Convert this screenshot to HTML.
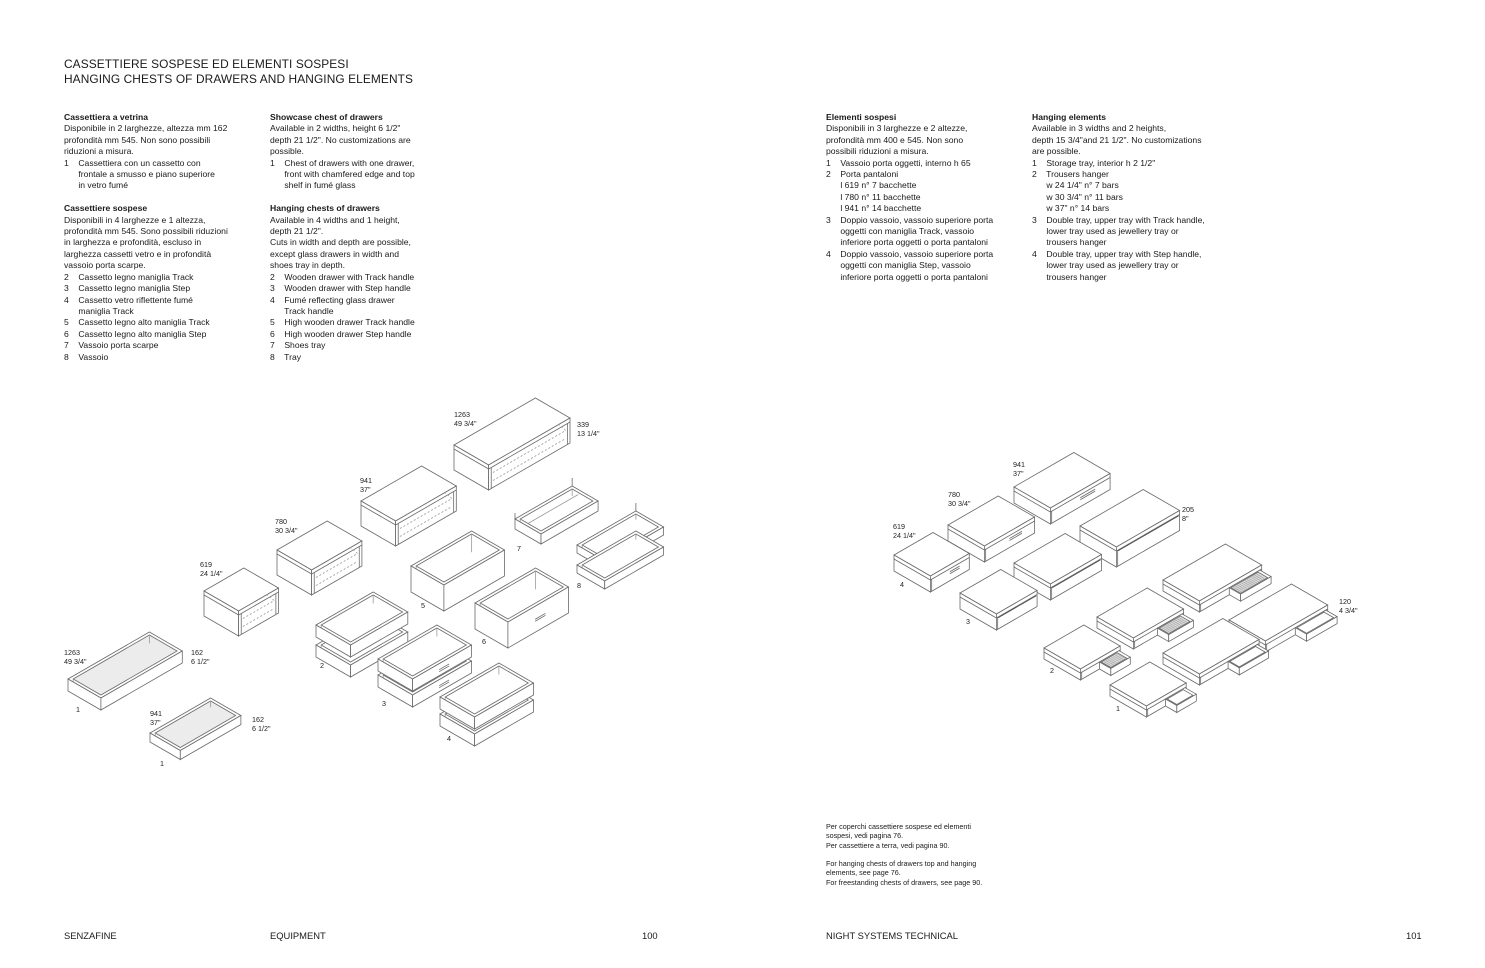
<!DOCTYPE html>
<html><head><meta charset="utf-8">
<style>
html,body{margin:0;padding:0;background:#fff}
body{width:1485px;height:968px;position:relative;overflow:hidden;font-family:"Liberation Sans",sans-serif;color:#1a1a1a}
.t{position:absolute;font-size:11.9px;line-height:15px;letter-spacing:0.1px}
.b{position:absolute;font-size:8.6px;line-height:11.4px;white-space:pre}
.b b{font-weight:bold}
.n{position:absolute;font-size:7.2px;line-height:9.3px;white-space:pre}
.f{position:absolute;font-size:9.4px;top:930px}
svg{position:absolute;left:0;top:0}
.l{position:absolute;font-size:7.2px;line-height:9px;white-space:pre;color:#222}
</style></head><body>
<div class="t" style="left:64px;top:57px">CASSETTIERE SOSPESE ED ELEMENTI SOSPESI<br>HANGING CHESTS OF DRAWERS AND HANGING ELEMENTS</div>

<div class="b" style="left:64px;top:112px"><b>Cassettiera a vetrina</b>
Disponibile in 2 larghezze, altezza mm 162
profondità mm 545. Non sono possibili
riduzioni a misura.
1    Cassettiera con un cassetto con
      frontale a smusso e piano superiore
      in vetro fumé

<b>Cassettiere sospese</b>
Disponibili in 4 larghezze e 1 altezza,
profondità mm 545. Sono possibili riduzioni
in larghezza e profondità, escluso in
larghezza cassetti vetro e in profondità
vassoio porta scarpe.
2    Cassetto legno maniglia Track
3    Cassetto legno maniglia Step
4    Cassetto vetro riflettente fumé
      maniglia Track
5    Cassetto legno alto maniglia Track
6    Cassetto legno alto maniglia Step
7    Vassoio porta scarpe
8    Vassoio</div>

<div class="b" style="left:270px;top:112px"><b>Showcase chest of drawers</b>
Available in 2 widths, height 6 1/2"
depth 21 1/2". No customizations are
possible.
1    Chest of drawers with one drawer,
      front with chamfered edge and top
      shelf in fumé glass

<b>Hanging chests of drawers</b>
Available in 4 widths and 1 height,
depth 21 1/2".
Cuts in width and depth are possible,
except glass drawers in width and
shoes tray in depth.
2    Wooden drawer with Track handle
3    Wooden drawer with Step handle
4    Fumé reflecting glass drawer
      Track handle
5    High wooden drawer Track handle
6    High wooden drawer Step handle
7    Shoes tray
8    Tray</div>

<div class="b" style="left:826px;top:112px"><b>Elementi sospesi</b>
Disponibili in 3 larghezze e 2 altezze,
profondità mm 400 e 545. Non sono
possibili riduzioni a misura.
1    Vassoio porta oggetti, interno h 65
2    Porta pantaloni
      l 619 n° 7 bacchette
      l 780 n° 11 bacchette
      l 941 n° 14 bacchette
3    Doppio vassoio, vassoio superiore porta
      oggetti con maniglia Track, vassoio
      inferiore porta oggetti o porta pantaloni
4    Doppio vassoio, vassoio superiore porta
      oggetti con maniglia Step, vassoio
      inferiore porta oggetti o porta pantaloni</div>

<div class="b" style="left:1032px;top:112px"><b>Hanging elements</b>
Available in 3 widths and 2 heights,
depth 15 3/4"and 21 1/2". No customizations
are possible.
1    Storage tray, interior h 2 1/2"
2    Trousers hanger
      w 24 1/4" n° 7 bars
      w 30 3/4" n° 11 bars
      w 37" n° 14 bars
3    Double tray, upper tray with Track handle,
      lower tray used as jewellery tray or
      trousers hanger
4    Double tray, upper tray with Step handle,
      lower tray used as jewellery tray or
      trousers hanger</div>

<div class="n" style="left:826px;top:822px">Per coperchi cassettiere sospese ed elementi
sospesi, vedi pagina 76.
Per cassettiere a terra, vedi pagina 90.

For hanging chests of drawers top and hanging
elements, see page 76.
For freestanding chests of drawers, see page 90.</div>

<div class="f" style="left:64px">SENZAFINE</div>
<div class="f" style="left:270px">EQUIPMENT</div>
<div class="f" style="left:642px">100</div>
<div class="f" style="left:826px">NIGHT SYSTEMS TECHNICAL</div>
<div class="f" style="left:1406px">101</div>

<svg id="s" width="1485" height="968" xmlns="http://www.w3.org/2000/svg"></svg>

<div class="l" style="left:454px;top:410px">1263
49 3/4"</div>
<div class="l" style="left:577px;top:420px">339
13 1/4"</div>
<div class="l" style="left:360px;top:476px">941
37"</div>
<div class="l" style="left:275px;top:517px">780
30 3/4"</div>
<div class="l" style="left:200px;top:560px">619
24 1/4"</div>
<div class="l" style="left:64px;top:648px">1263
49 3/4"</div>
<div class="l" style="left:191px;top:648px">162
6 1/2"</div>
<div class="l" style="left:150px;top:709px">941
37"</div>
<div class="l" style="left:252px;top:715px">162
6 1/2"</div>
<div class="l" style="left:76px;top:705px">1</div>
<div class="l" style="left:160px;top:759px">1</div>
<div class="l" style="left:320px;top:661px">2</div>
<div class="l" style="left:382px;top:699px">3</div>
<div class="l" style="left:447px;top:734px">4</div>
<div class="l" style="left:421px;top:601px">5</div>
<div class="l" style="left:482px;top:637px">6</div>
<div class="l" style="left:517px;top:544px">7</div>
<div class="l" style="left:577px;top:581px">8</div>

<div class="l" style="left:1013px;top:460px">941
37"</div>
<div class="l" style="left:948px;top:490px">780
30 3/4"</div>
<div class="l" style="left:893px;top:522px">619
24 1/4"</div>
<div class="l" style="left:1182px;top:505px">205
8"</div>
<div class="l" style="left:1339px;top:597px">120
4 3/4"</div>
<div class="l" style="left:900px;top:580px">4</div>
<div class="l" style="left:966px;top:617px">3</div>
<div class="l" style="left:1050px;top:666px">2</div>
<div class="l" style="left:1116px;top:704px">1</div>

<script>
var S=document.getElementById('s'),NS='http://www.w3.org/2000/svg',C=0.866,SN=0.5;
function P(o,w,d,h){return [o[0]+C*(w+d),o[1]-SN*w+SN*d+h];}
function poly(pts,fill,extra){var e=document.createElementNS(NS,'polygon');e.setAttribute('points',pts.map(function(p){return p[0].toFixed(1)+','+p[1].toFixed(1)}).join(' '));e.setAttribute('fill',fill||'#fff');e.setAttribute('stroke','#6a6a6a');e.setAttribute('stroke-width','0.8');if(extra)e.setAttribute('stroke-dasharray',extra);S.appendChild(e);}
function line(a,b,dash,col){var e=document.createElementNS(NS,'line');e.setAttribute('x1',a[0]);e.setAttribute('y1',a[1]);e.setAttribute('x2',b[0]);e.setAttribute('y2',b[1]);e.setAttribute('stroke',col||'#6a6a6a');e.setAttribute('stroke-width','0.8');if(dash)e.setAttribute('stroke-dasharray',dash);S.appendChild(e);}
function box(o,W,D,H){
 poly([P(o,0,0,0),P(o,W,0,0),P(o,W,D,0),P(o,0,D,0)]);
 poly([P(o,0,0,0),P(o,0,D,0),P(o,0,D,H),P(o,0,0,H)]);
 poly([P(o,0,D,0),P(o,W,D,0),P(o,W,D,H),P(o,0,D,H)]);
}
function cab(o,W,D,H){
 box(o,W,D,H);
 line(P(o,0,0,4),P(o,0,D,4));line(P(o,0,D,4),P(o,W,D,4));
 line(P(o,W-3,D,4),P(o,W-3,D,H));
 line(P(o,3,D,4),P(o,3,D,H));
 line(P(o,5,D,10),P(o,W-5,D,10),'2,2','#999');
 line(P(o,5,D,18),P(o,W-5,D,18),'2,2','#999');
 line(P(o,W-5,D,10),P(o,W-5,D-10,8),'2,2','#999');
}
function drawer(o,W,D,H,fill,handle){
 var t=3;
 poly([P(o,0,0,0),P(o,W,0,0),P(o,W,D,0),P(o,0,D,0)],'#fff');
 poly([P(o,t,t,0),P(o,W-t,t,0),P(o,W-t,D-t,0),P(o,t,D-t,0)],fill||'#fff');
 line(P(o,t,t,0),P(o,t,t,H*0.7),null,'#999');
 line(P(o,W-t,t,0),P(o,W-t,t,H*0.7),null,'#999');
 poly([P(o,0,0,0),P(o,0,D,0),P(o,0,D,H),P(o,0,0,H)]);
 poly([P(o,0,D,0),P(o,W,D,0),P(o,W,D,H),P(o,0,D,H)]);
 if(handle){line(P(o,W*0.45,D,H*0.5),P(o,W*0.62,D,H*0.5));line(P(o,W*0.45,D,H*0.5+2),P(o,W*0.62,D,H*0.5+2));}
}
function unit(o,W,D,H,handle,pull,hatch){
 box(o,W,D,H);
 line(P(o,0,0,4),P(o,0,D,4));line(P(o,0,D,4),P(o,W,D,4));
 line(P(o,1.5,D,4),P(o,1.5,D,H));
 if(handle==1){line(P(o,W*0.5,D,7),P(o,W*0.75,D,7));line(P(o,W*0.5,D,9),P(o,W*0.75,D,9));}
 if(handle==2){line(P(o,2,D,4.8),P(o,W-1,D,4.8),null,'#444');}
 if(pull){var w1=W*0.48,w2=W*0.97,p=13,q=P(o,w1,D,4);
  var W2=w2-w1,H2=H-4;
  poly([P(q,0,0,0),P(q,W2,0,0),P(q,W2,p,0),P(q,0,p,0)]);
  poly([P(q,2,0,1),P(q,W2-2,0,1),P(q,W2-2,p-2,1),P(q,2,p-2,1)],hatch?'#ddd':'#fff');
  if(hatch){for(var i=4;i<W2-3;i+=2.2)line(P(q,i,1,1),P(q,i,p-3,1),null,'#aaa');}
  poly([P(q,0,0,0),P(q,0,p,0),P(q,0,p,H2),P(q,0,0,H2)]);
  poly([P(q,0,p,0),P(q,W2,p,0),P(q,W2,p,H2),P(q,0,p,H2)]);
 }
}
// left page
drawer([68,679],94,38,12,'#ececec');
drawer([150,733],70,35,9,'#ececec');
cab([454,445],94,40,25);
cab([361,501],70,40,25);
cab([277,550],58,40,25);
cab([204,591],46,40,25);
drawer([515,519],66,30,10);
line(P([515,519],66,0,0),P([515,519],66,0,-8));line(P([515,519],0,0,0),P([515,519],0,0,-6));
line(P([515,519],5,10,2),P([515,519],63,10,2),null,'#999');
drawer([577,545],68,32,8);line(P([577,545],68,0,0),P([577,545],68,0,-8));
drawer([577,565],68,32,8);
drawer([411,566],70,38,26);
drawer([475,603],70,38,26,null,1);
drawer([316,645],66,40,12);
drawer([316,625],66,40,12);
drawer([378,675],68,40,12,null,1);
drawer([378,659],68,40,12,null,1);
drawer([440,714],68,40,12);
drawer([440,697],68,40,12);
// right page
unit([1014,487],69,42,16,1);
unit([948,525],58,42,16,1);
unit([894,555],45,42,16,1);
unit([1080,526],73,42,20,2);
unit([1014,563],59,42,16,2);
unit([960,593],47,42,16,2);
unit([1163,580],72,42,11,0,1,1);
unit([1229,620],72,42,11,0,1,0);
unit([1097,617],58,42,11,0,1,1);
unit([1163,653],69,42,11,0,1,0);
unit([1044,648],46,42,11,0,1,1);
unit([1110,685],46,42,11,0,1,0);
</script>
</body></html>
